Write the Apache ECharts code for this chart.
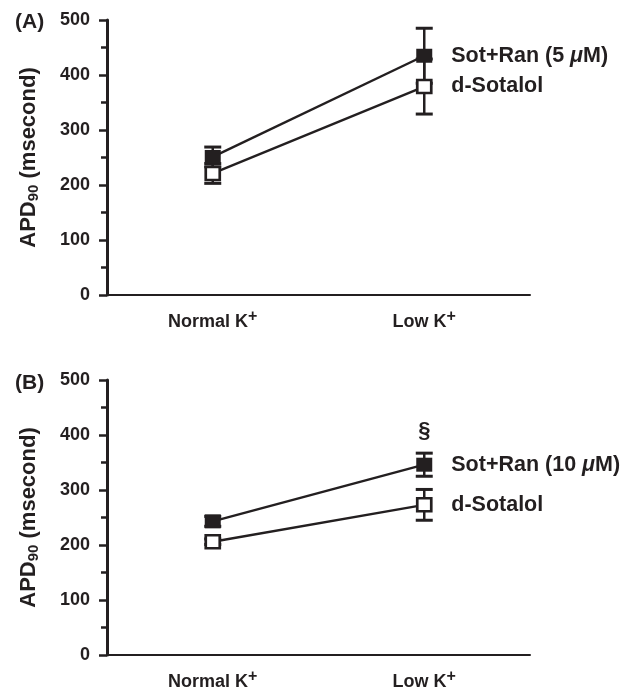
<!DOCTYPE html>
<html>
<head>
<meta charset="utf-8">
<script src="https://cdn.jsdelivr.net/npm/echarts@6/dist/echarts.min.js"></script>
<style>
  html, body { margin: 0; padding: 0; background: #fff; }
  #chart { width: 632px; height: 699px; }
</style>
</head>
<body>
<div id="chart"></div>
<script>
const INK = "#231f20";
const FONT = "'Liberation Sans', Arial, sans-serif";

const categories = ["Normal K+", "Low K+"];
const yTicks = [0, 100, 200, 300, 400, 500];

// panel A
const sotRan5Mean = [251, 435];
const sotRan5Err = [18, 50];
const sotalolAMean = [221, 379];
const sotalolAErr = [18, 50];

// panel B
const sotRan10Mean = [243, 346];
const sotRan10Err = [9, 21];
const sotalolBMean = [206, 273];
const sotalolBErr = [5, 28];

const catLabel = (v) => v.replace(/\+$/, "{sup|+}");

const errRows = (mean, err) => mean.map((m, i) => [i, m - err[i], m + err[i]]);

const renderErr = (params, api) => {
  const i = api.value(0);
  const lo = api.coord([i, api.value(1)]);
  const hi = api.coord([i, api.value(2)]);
  const x = lo[0];
  const hw = 8.5;
  return {
    type: "group",
    children: [
      { type: "line", shape: { x1: x, y1: lo[1], x2: x, y2: hi[1] }, style: { stroke: INK, lineWidth: 2.5 } },
      { type: "line", shape: { x1: x - hw, y1: hi[1], x2: x + hw, y2: hi[1] }, style: { stroke: INK, lineWidth: 3 } },
      { type: "line", shape: { x1: x - hw, y1: lo[1], x2: x + hw, y2: lo[1] }, style: { stroke: INK, lineWidth: 3 } }
    ]
  };
};

const xAxisFor = (gridIndex) => ({
  type: "category",
  gridIndex,
  data: categories,
  boundaryGap: true,
  axisLine: { lineStyle: { color: INK, width: 2 } },
  axisTick: { alignWithLabel: true, length: 8, lineStyle: { color: INK, width: 2.5 } },
  axisLabel: {
    color: INK,
    fontFamily: FONT,
    fontWeight: "bold",
    fontSize: 18,
    margin: 14,
    formatter: catLabel,
    rich: {
      sup: { fontSize: 16, fontWeight: "bold", fontFamily: FONT, color: INK, padding: [0, 0, 11, 0] }
    }
  },
  splitLine: { show: false }
});

const yAxisFor = (gridIndex) => ({
  type: "value",
  gridIndex,
  min: yTicks[0],
  max: yTicks[yTicks.length - 1],
  interval: 100,
  name: "APD{sub|90} (msecond)",
  nameLocation: "middle",
  nameGap: 66,
  nameTextStyle: {
    color: INK,
    fontFamily: FONT,
    fontWeight: "bold",
    fontSize: 22,
    rich: {
      sub: { fontSize: 15, fontWeight: "bold", fontFamily: FONT, color: INK, padding: [10, 0, 0, 0] }
    }
  },
  axisLine: { show: true, lineStyle: { color: INK, width: 3 } },
  axisTick: { show: true, length: 8, lineStyle: { color: INK, width: 2.5 } },
  minorTick: { show: true, splitNumber: 2, length: 6, lineStyle: { color: INK, width: 2.5 } },
  axisLabel: { color: INK, fontFamily: FONT, fontWeight: "bold", fontSize: 18, margin: 17 },
  splitLine: { show: false }
});

const endLabel = (text) => ({
  show: true,
  distance: 27,
  color: INK,
  fontFamily: FONT,
  fontWeight: "bold",
  fontSize: 21.5,
  formatter: text,
  rich: {
    i: { fontStyle: "italic", fontWeight: "bold", fontFamily: FONT, fontSize: 21.5, color: INK }
  }
});

const lineSeries = (idx, mean, filled, label, extra) => ({
  type: "line",
  xAxisIndex: idx,
  yAxisIndex: idx,
  data: mean.map((v, i) => (extra && extra[i] ? { value: v, ...extra[i] } : v)),
  symbol: "rect",
  symbolSize: filled ? [16, 14] : [14, 13],
  showAllSymbol: true,
  lineStyle: { color: INK, width: 2.4 },
  itemStyle: { color: filled ? INK : "#fff", borderColor: INK, borderWidth: filled ? 0 : 2.6 },
  endLabel: endLabel(label),
  z: 3
});

const errSeries = (idx, mean, err) => ({
  type: "custom",
  xAxisIndex: idx,
  yAxisIndex: idx,
  data: errRows(mean, err),
  renderItem: renderErr,
  z: 1
});

const sectionMark = [null, {
  label: { show: true, position: "top", distance: 16, formatter: "§", color: INK, fontFamily: FONT, fontWeight: "bold", fontSize: 22 }
}];

const chart = echarts.init(document.getElementById("chart"), null, { renderer: "canvas" });

chart.setOption({
  animation: false,
  backgroundColor: "#fff",
  title: [
    { text: "(A)", left: 15, top: 12, padding: 0, textStyle: { color: INK, fontFamily: FONT, fontWeight: "bold", fontSize: 21 } },
    { text: "(B)", left: 15, top: 373, padding: 0, textStyle: { color: INK, fontFamily: FONT, fontWeight: "bold", fontSize: 21 } }
  ],
  grid: [
    { left: 107, top: 20, width: 423, height: 275 },
    { left: 107, top: 380, width: 423, height: 275 }
  ],
  xAxis: [xAxisFor(0), xAxisFor(1)],
  yAxis: [yAxisFor(0), yAxisFor(1)],
  series: [
    errSeries(0, sotalolAMean, sotalolAErr),
    errSeries(0, sotRan5Mean, sotRan5Err),
    lineSeries(0, sotalolAMean, false, "d-Sotalol"),
    lineSeries(0, sotRan5Mean, true, "Sot+Ran (5 {i|μ}M)"),
    errSeries(1, sotalolBMean, sotalolBErr),
    errSeries(1, sotRan10Mean, sotRan10Err),
    lineSeries(1, sotalolBMean, false, "d-Sotalol"),
    lineSeries(1, sotRan10Mean, true, "Sot+Ran (10 {i|μ}M)", sectionMark)
  ]
});
</script>
</body>
</html>
